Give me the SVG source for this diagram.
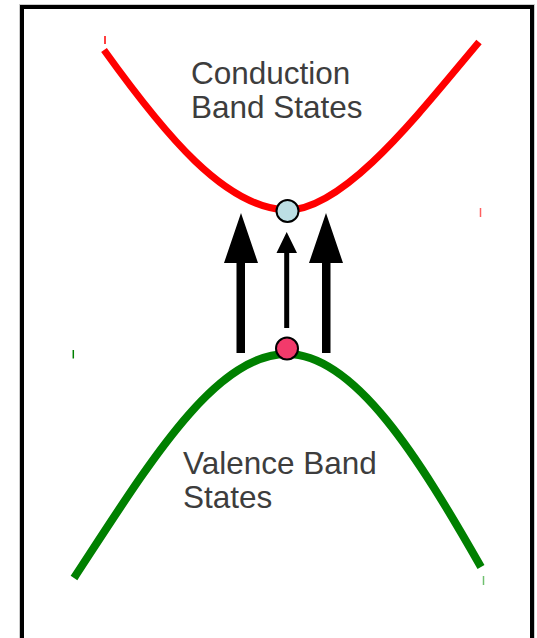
<svg xmlns="http://www.w3.org/2000/svg" width="537" height="638" viewBox="0 0 537 638">
<defs>
<style>
.lbl{font-family:"Liberation Sans",Arial,sans-serif;font-size:31.5px;fill:#3d3d3d}
.tick{stroke-width:1.5}
.arr{fill:#000}
.state{stroke:#000;stroke-width:2}
</style>
</defs>
<rect x="0" y="0" width="537" height="638" fill="#fff"/>
<rect id="frame" x="22" y="7" width="510" height="660" fill="none" stroke="#000" stroke-width="4"/>
<rect x="19.5" y="4.5" width="515" height="660" fill="none" stroke="#ccc" stroke-width="1"/>
<g id="conduction-band">
<path d="M104,50 C165,135 225,208 287,210 C345,210 420,112 479,42" fill="none" stroke="#ff0000" stroke-width="7"/>
<text class="lbl" x="191" y="84">Conduction</text>
<text class="lbl" x="191" y="118">Band States</text>
</g>
<g id="valence-band">
<path d="M74,578 C150,462 215,354 287,354 C355,354 420,460 481,567" fill="none" stroke="#008000" stroke-width="8"/>
<text class="lbl" x="183" y="474">Valence Band</text>
<text class="lbl" x="183" y="508">States</text>
</g>
<g id="connectors">
<path class="arr" d="M236.5,353 L245,353 L245,263 L258,263 L241,213 L224,263 L236.5,263 Z"/>
<path class="arr" d="M322,353 L330.5,353 L330.5,263 L343,263 L326,213 L309,263 L322,263 Z"/>
<path class="arr" d="M284.2,328 L289.2,328 L289.2,253 L297,253 L286.7,232 L276.5,253 L284.2,253 Z"/>
</g>
<g id="electron">
<circle class="state" cx="287.5" cy="211" r="11" fill="#bcdfe4"/>
</g>
<g id="hole">
<circle class="state" cx="287" cy="348.5" r="11" fill="#f23a6b"/>
</g>
<g id="ticks">
<line class="tick" x1="105" y1="36" x2="105" y2="44" stroke="#ff0000"/>
<line class="tick" x1="480.5" y1="208" x2="480.5" y2="217" stroke="#ff6060"/>
<line class="tick" x1="73.3" y1="350" x2="73.3" y2="358.5" stroke="#008000"/>
<line class="tick" x1="483.5" y1="576" x2="483.5" y2="585" stroke="#70c070"/>
</g>
</svg>
